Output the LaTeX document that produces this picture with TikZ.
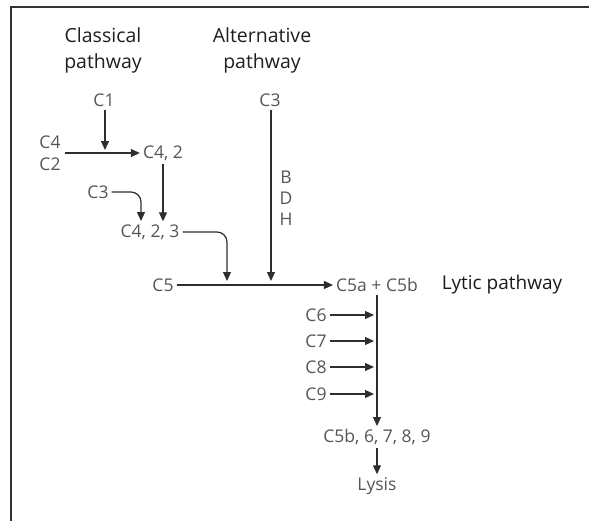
\documentclass[tikz,border=0pt]{standalone}
\usepackage{fontspec}
\setmainfont{Open Sans}
\usetikzlibrary{positioning,arrows.meta,calc}
\definecolor{labgray}{HTML}{555555}
\definecolor{linegray}{HTML}{2E2E2E}

\begin{document}
\begin{tikzpicture}[
  x=1pt, y=-1pt,
  font=\fontsize{17.5}{21}\selectfont,
  lbl/.style={text=labgray, inner sep=3pt},
  head/.style={text=black!88, align=center, font=\fontsize{19.5}{26}\selectfont},
  arr/.style={-{Triangle[length=9pt,width=8pt]}, draw=linegray, line width=1.2pt},
  curvearr/.style={arr, rounded corners=10pt}
]
\useasboundingbox (0,0) rectangle (589,520);
\draw[line width=1.3pt, black!80] (11,530) -- (11,7) -- (600,7);

% headings
\node[head] (cls) at (103,50) {Classical\\pathway};
\node[head] (alt) at (262,50) {Alternative\\pathway};

% classical pathway
\node[lbl] (c1)   at (104,100) {C1};
\node[lbl] (c4)   at (50,142)  {C4};
\node[lbl] (c2)   at (50,164)  {C2};
\node[lbl] (c42)  at (163,153) {C4, 2};
\node[lbl] (c3a)  at (98,192)  {C3};
\node[lbl] (c423) at (150,232) {C4, 2, 3};
\coordinate (s42) at (65,153);
\coordinate (j1)  at (105,153);
\coordinate (t3)  at (141,221);

\draw[arr] (s42) -- (c42.west);
\draw[arr, shorten >=3pt] (c1.south -| j1) -- (j1);
\draw[arr] (c42.south) -- (c42.south |- c423.north);
\draw[curvearr] (c3a.east) -| (t3);

% alternative pathway
\node[lbl] (c3b) at (270,100) {C3};
\node[lbl, align=center, font=\fontsize{17.5}{21}\selectfont] (bdh) at (286,198) {B\\D\\H};

% lytic pathway
\node[lbl] (c5)    at (163,285) {C5};
\node[lbl] (c5ab)  at (377,285) {C5a + C5b};
\node[text=black!90, font=\fontsize{19}{22}\selectfont] (lyt) at (502,285) {Lytic pathway};
\node[lbl] (c5b9)  at (377,437) {C5b, 6, 7, 8, 9};
\node[lbl] (lysis) at (377,486) {Lysis};
\coordinate (j2) at (227,284);
\coordinate (j3) at (271,284);

\draw[arr] (c5.east) -- (c5ab.west);
\draw[curvearr, shorten >=3pt] (c423.east) -| (j2);
\draw[arr, shorten >=3pt] (c3b.south -| j3) -- (j3);
\draw[arr] (c5ab.south) -- (c5b9.north);
\foreach \n/\y in {6/315,7/341,8/367,9/394}{
  \node[lbl] (c\n) at (316,\y) {C\n};
  \draw[arr, shorten >=3pt] (c\n.east) -- (c\n.east -| c5ab.south);
}
\draw[arr] (c5b9.south) -- (lysis.north);
\end{tikzpicture}
\end{document}
